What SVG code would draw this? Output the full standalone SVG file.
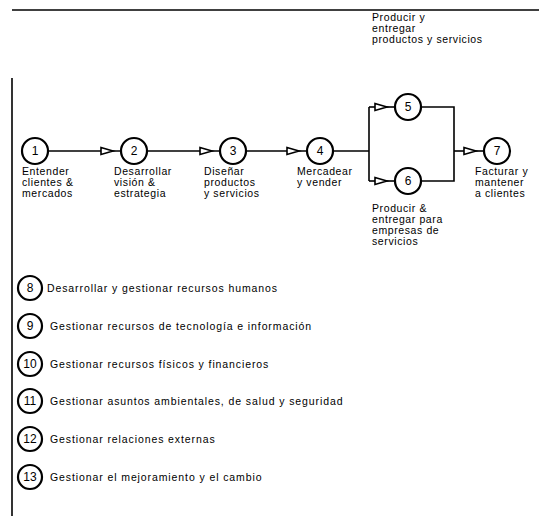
<svg xmlns="http://www.w3.org/2000/svg" width="539" height="516" viewBox="0 0 539 516">
  <style>
    .frame { stroke: #000; stroke-width: 1.6; fill: none; }
    .node circle { fill: #fff; stroke: #000; stroke-width: 2.2; }
    .num { font-family: "Liberation Sans", Arial, sans-serif; font-size: 12px; text-anchor: middle; fill: #000; }
    .lbl { font-family: "Liberation Sans", Arial, sans-serif; font-size: 10.5px; letter-spacing: 0.6px; fill: #000; }
    .sup { font-family: "Liberation Sans", Arial, sans-serif; font-size: 10.5px; letter-spacing: 0.9px; fill: #000; }
    .conn line, .conn path { stroke: #000; stroke-width: 1.6; fill: none; }
    .head { fill: #fff; stroke: #000; stroke-width: 1.6; }
  </style>
  <defs>
    <!-- open triangular head, tip at origin, pointing right -->
    <path id="tri" class="head" d="M-12,-3.5 L0,0 L-12,3.5 Z"/>
  </defs>
  <rect width="539" height="516" fill="#fff"/>

  <!-- page frame -->
  <line class="frame" x1="12" y1="10" x2="539" y2="10"/>
  <line class="frame" x1="12" y1="78" x2="12" y2="516"/>

  <!-- connectors -->
  <g id="connectors" class="conn">
    <line x1="48" y1="151" x2="121" y2="151"/>
    <line x1="147" y1="151" x2="220" y2="151"/>
    <line x1="246" y1="151" x2="307" y2="151"/>
    <line x1="333" y1="151" x2="369" y2="151"/>
    <line x1="369" y1="107" x2="369" y2="181"/>
    <line x1="369" y1="107" x2="395" y2="107"/>
    <line x1="369" y1="181" x2="395" y2="181"/>
    <path d="M421,107 H454 V181 H421"/>
    <line x1="454" y1="151" x2="484" y2="151"/>
    <use href="#tri" x="113" y="151"/>
    <use href="#tri" x="212" y="151"/>
    <use href="#tri" x="299" y="151"/>
    <use href="#tri" x="387" y="107"/>
    <use href="#tri" x="387" y="181"/>
    <use href="#tri" x="476" y="151"/>
  </g>

  <!-- value chain nodes -->
  <g id="n1" class="node">
    <circle cx="35" cy="151" r="13"/>
    <text class="num" x="35" y="155">1</text>
    <text class="lbl" x="22" y="175">Entender</text>
    <text class="lbl" x="22" y="186">clientes &amp;</text>
    <text class="lbl" x="22" y="197">mercados</text>
  </g>
  <g id="n2" class="node">
    <circle cx="134" cy="151" r="13"/>
    <text class="num" x="134" y="155">2</text>
    <text class="lbl" x="114" y="175">Desarrollar</text>
    <text class="lbl" x="114" y="186">visión &amp;</text>
    <text class="lbl" x="114" y="197">estrategia</text>
  </g>
  <g id="n3" class="node">
    <circle cx="233" cy="151" r="13"/>
    <text class="num" x="233" y="155">3</text>
    <text class="lbl" x="204" y="175">Diseñar</text>
    <text class="lbl" x="204" y="186">productos</text>
    <text class="lbl" x="204" y="197">y servicios</text>
  </g>
  <g id="n4" class="node">
    <circle cx="320" cy="151" r="13"/>
    <text class="num" x="320" y="155">4</text>
    <text class="lbl" x="297" y="175">Mercadear</text>
    <text class="lbl" x="297" y="186">y vender</text>
  </g>
  <g id="n5" class="node">
    <circle cx="408" cy="107" r="13"/>
    <text class="num" x="408" y="111">5</text>
    <text class="lbl" x="372" y="21">Producir y</text>
    <text class="lbl" x="372" y="32">entregar</text>
    <text class="lbl" x="372" y="43">productos y servicios</text>
  </g>
  <g id="n6" class="node">
    <circle cx="408" cy="181" r="13"/>
    <text class="num" x="408" y="185">6</text>
    <text class="lbl" x="372" y="212">Producir &amp;</text>
    <text class="lbl" x="372" y="223">entregar para</text>
    <text class="lbl" x="372" y="234">empresas de</text>
    <text class="lbl" x="372" y="245">servicios</text>
  </g>
  <g id="n7" class="node">
    <circle cx="497" cy="151" r="13"/>
    <text class="num" x="497" y="155">7</text>
    <text class="lbl" x="475" y="175">Facturar y</text>
    <text class="lbl" x="475" y="186">mantener</text>
    <text class="lbl" x="475" y="197">a clientes</text>
  </g>

  <!-- support processes -->
  <g id="n8" class="node">
    <circle cx="30" cy="288" r="12"/>
    <text class="num" x="30" y="292">8</text>
    <text class="sup" x="47" y="292">Desarrollar y gestionar recursos humanos</text>
  </g>
  <g id="n9" class="node">
    <circle cx="30" cy="326" r="12"/>
    <text class="num" x="30" y="330">9</text>
    <text class="sup" x="50" y="330">Gestionar recursos de tecnología e información</text>
  </g>
  <g id="n10" class="node">
    <circle cx="30" cy="364" r="12"/>
    <text class="num" x="30" y="368">10</text>
    <text class="sup" x="50" y="368">Gestionar recursos físicos y financieros</text>
  </g>
  <g id="n11" class="node">
    <circle cx="30" cy="401" r="12"/>
    <text class="num" x="30" y="405">11</text>
    <text class="sup" x="50" y="405">Gestionar asuntos ambientales, de salud y seguridad</text>
  </g>
  <g id="n12" class="node">
    <circle cx="30" cy="439" r="12"/>
    <text class="num" x="30" y="443">12</text>
    <text class="sup" x="50" y="443">Gestionar relaciones externas</text>
  </g>
  <g id="n13" class="node">
    <circle cx="30" cy="477" r="12"/>
    <text class="num" x="30" y="481">13</text>
    <text class="sup" x="50" y="481">Gestionar el mejoramiento y el cambio</text>
  </g>
</svg>
